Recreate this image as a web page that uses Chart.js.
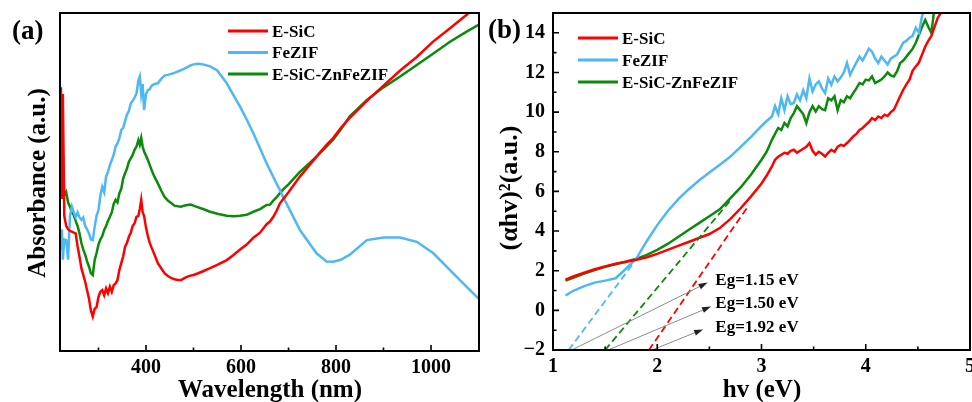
<!DOCTYPE html>
<html>
<head>
<meta charset="utf-8">
<script src="https://cdn.jsdelivr.net/npm/chart.js@4.4.1/dist/chart.umd.min.js"></script>
<style>
  html, body { margin: 0; padding: 0; background: #fff; }
  #wrap { position: relative; width: 972px; height: 402px; overflow: hidden; }
  .panel { position: absolute; top: 0; width: 486px; height: 402px; }
</style>
</head>
<body>
<div id="wrap">
  <div class="panel" style="left:0"><canvas id="absChart"></canvas></div>
  <div class="panel" style="left:486px"><canvas id="taucChart"></canvas></div>
</div>
<script>
// series names and colours, shared by both panels
const seriesNames = ['E-SiC', 'FeZIF', 'E-SiC-ZnFeZIF'];
const seriesColors = ['#ff0000', '#4db8f4', '#0b8a0b'];

// (a) UV-vis absorbance (a.u.)
const wavelength = [221, 223, 225, 228, 232, 236, 240, 244, 248, 252, 256, 260, 264, 268, 272, 276, 280, 284, 288, 292,
  296, 300, 304, 308, 312, 316, 320, 324, 328, 332, 336, 340, 344, 348, 352, 356, 360, 364, 368, 372,
  376, 380, 384, 387, 390, 393, 396, 400, 404, 408, 412, 418, 425, 432, 439, 446, 453, 460, 467, 474,
  480, 487, 494, 500, 510, 520, 535, 550, 570, 585, 598, 612, 626, 640, 654, 661, 668, 675, 682, 689,
  700, 724, 759, 780, 794, 810, 829, 865, 900, 935, 970, 1005, 1040, 1075, 1100];
const absESiC = [78, 45, 76, 40, 37, 36, 35.5, 35.3, 35, 34.8, 31, 27.9, 24.5, 22.5, 20.5, 18, 15.5, 12, 10.2, 12.5,
  13, 16, 17.5, 18, 16.5, 18.5, 17.1, 19, 17.5, 19.5, 20, 21, 24, 26, 28, 30.9, 32, 33.8, 35, 37,
  37.8, 39.7, 40, 42, 44.7, 41, 40, 36.5, 34, 32, 30.5, 28.5, 26, 24.5, 23, 22.2, 21.6, 21.2, 21, 21,
  21.5, 22, 22.3, 22.5, 23, 23.6, 24.5, 25.5, 26.9, 28.5, 30, 31.5, 33.5, 35, 37.5, 38.3, 39.7, 41.5, 43.7, 45,
  47, 51.6, 57.5, 61, 63, 66, 69, 74, 78.5, 83, 87, 91.6, 95.5, 99.5, 102.5];
const absFeZIF = [30, 36, 27, 33, 32.8, 27, 40, 42.7, 41, 39.7, 41, 39.5, 38.8, 39.5, 37, 36, 34.8, 33, 32.8, 36.8,
  40, 41.7, 46, 48.6, 47, 51.6, 53, 55, 56.5, 58, 60.5, 61.4, 63, 65.4, 66, 68, 70, 71, 73.3, 74,
  75, 76.2, 80, 81.2, 76, 79, 71.3, 76, 77.2, 77.5, 78.5, 79, 79.2, 80.5, 81.5, 81.7, 82, 82.3, 82.7, 83.1,
  83.5, 84, 84.5, 84.8, 85, 84.8, 84.2, 83, 79.2, 75.5, 72.3, 68.5, 64.4, 60, 55.5, 53.5, 51.5, 49.5, 47.6, 45.5,
  42.5, 35.8, 28.9, 26.5, 26.4, 27, 28.5, 32.8, 33.6, 33.6, 32.3, 28.9, 23.9, 19, 15.5];
const absZnFeZIF = [62, 50, 58, 46, 47, 44, 42.7, 41, 40.2, 38.5, 37, 34.8, 32, 30, 28.5, 26.5, 25, 23, 22.5, 26.9,
  29, 31.5, 33, 34, 35.8, 37, 38.5, 39.7, 41, 43.5, 44.7, 44, 46.7, 48, 51, 52.6, 54, 56, 57, 58,
  59.5, 60.5, 62.4, 61, 63, 60.5, 59, 57.8, 56.5, 55, 53.5, 51.5, 49.6, 47.5, 45.6, 44.5, 43.8, 43, 42.8, 42.7,
  43, 43.2, 43.3, 43, 42.5, 42, 41.2, 40.6, 40, 39.9, 40, 40.3, 41.2, 42, 43.2, 43.3, 44.5, 45.5, 46.7, 47.8,
  49.3, 53, 57.5, 60.5, 62.5, 65.5, 69.4, 74.3, 78, 81.2, 84.6, 88, 91.5, 94.5, 96.5];
const wlTicks = [400, 600, 800, 1000];
const wlMinorTicks = [300, 500, 700, 900];

// (b) Tauc plot, (αhv)^2 vs photon energy
const energy = [1.12, 1.2, 1.3, 1.4, 1.5, 1.6, 1.7, 1.8, 1.9, 2.0, 2.1, 2.2, 2.3, 2.4, 2.5, 2.6, 2.7, 2.8, 2.9, 3.0,
  3.05, 3.1, 3.13, 3.16, 3.19, 3.22, 3.25, 3.28, 3.31, 3.34, 3.37, 3.40, 3.43, 3.46, 3.49, 3.52, 3.55, 3.58, 3.61, 3.64,
  3.67, 3.70, 3.73, 3.76, 3.79, 3.82, 3.85, 3.88, 3.91, 3.94, 3.97, 4.0, 4.03, 4.06, 4.09, 4.12, 4.15, 4.18, 4.21, 4.24,
  4.27, 4.30, 4.33, 4.36, 4.39, 4.42, 4.45, 4.48, 4.51, 4.54, 4.57, 4.60, 4.63, 4.66, 4.69, 4.72, 4.75];
const taucESiC = [1.55, 1.72, 1.9, 2.07, 2.22, 2.35, 2.45, 2.55, 2.68, 2.85, 3.05, 3.25, 3.45, 3.65, 3.85, 4.15, 4.6, 5.15, 5.75, 6.4,
  6.8, 7.26, 7.6, 7.75, 7.85, 7.95, 7.9, 8.05, 8.1, 7.95, 8.05, 8.15, 8.25, 8.44, 8.05, 7.85, 8.0, 7.9, 7.76, 7.95,
  8.1, 8.0, 8.25, 8.35, 8.3, 8.44, 8.6, 8.78, 8.9, 9.1, 9.2, 9.36, 9.5, 9.7, 9.6, 9.78, 9.7, 9.87, 9.8, 10.0,
  10.12, 10.46, 10.8, 11.13, 11.4, 11.64, 12.1, 12.3, 12.5, 12.9, 13.3, 13.6, 13.85, 14.3, 14.75, 15.0, 15.4];
const taucFeZIF = [0.75, 1.0, 1.22, 1.4, 1.5, 1.62, 2.1, 2.62, 3.5, 4.3, 5.0, 5.6, 6.1, 6.55, 6.95, 7.35, 7.75, 8.25, 8.75, 9.3,
  9.55, 9.78, 10.3, 9.9, 10.7, 10.1, 10.8, 10.4, 10.46, 10.9, 10.6, 11.1, 10.7, 11.7, 11.05, 11.4, 11.55, 11.2, 10.96, 11.7,
  11.38, 11.8, 11.55, 11.75, 12.0, 12.48, 11.88, 12.2, 12.5, 12.8, 12.6, 12.9, 13.2, 13.05, 12.7, 12.48, 12.8, 12.6, 12.4, 12.7,
  12.8, 12.9, 13.2, 13.5, 13.6, 13.75, 13.85, 14.25, 14.0, 14.85, 15.3, 15.8, 16.2, 16.6, 17, 17.4, 17.8];
const taucZnFeZIF = [1.5, 1.65, 1.85, 2.03, 2.2, 2.33, 2.45, 2.6, 2.8, 3.05, 3.35, 3.7, 4.05, 4.4, 4.75, 5.1, 5.65, 6.2, 6.85, 7.6,
  8.0, 8.6, 8.9, 9.2, 9.1, 9.45, 9.28, 9.7, 9.95, 10.3, 10.1, 9.9, 9.45, 10.0, 10.3, 10.03, 10.3, 10.15, 10.1, 10.7,
  10.6, 10.8, 10.1, 10.6, 10.5, 10.8, 10.7, 10.96, 11.2, 11.47, 11.4, 11.64, 11.6, 11.8, 11.47, 11.55, 11.64, 11.8, 12.0, 11.85,
  11.8, 12.05, 12.48, 12.6, 12.8, 13.0, 13.2, 13.5, 13.9, 14.3, 14.65, 14.3, 14.0, 15.3, 15.8, 16.2, 16.6];
const eTicks = [1, 2, 3, 4, 5];
const eMinorTicks = [1.5, 2.5, 3.5, 4.5];
const taucTicks = [-2, 0, 2, 4, 6, 8, 10, 12, 14];
const taucMinorTicks = [-1, 1, 3, 5, 7, 9, 11, 13];

// linear fits: band gap read at the x intercept, fit end point; order FeZIF, ZnFeZIF, E-SiC
const bandGaps = [1.15, 1.50, 1.92];
const fitEnds = [[1.76, 2.3], [2.72, 5.66], [2.87, 5.24]];
const fitColors = [seriesColors[1], seriesColors[2], seriesColors[0]];

const SERIF = '"Liberation Serif", "Times New Roman", serif';
const bold = size => 'bold ' + size + 'px ' + SERIF;

function toPoints(xs, ys) {
  return xs.map((x, i) => ({ x: x, y: ys[i] }));
}

function curve(label, color, points) {
  return {
    label: label,
    data: points,
    borderColor: color,
    backgroundColor: color,
    borderWidth: 2.5,
    pointRadius: 0,
    tension: 0
  };
}

// fixed layout for the scales, so the plot boxes land where they should
function fixWidth(w) {
  return s => { s.width = w; s.paddingTop = 0; s.paddingBottom = 0; };
}
function fixHeight(h) {
  return s => { s.height = h; s.paddingLeft = 0; s.paddingRight = 0; };
}
function useTicks(values) {
  return s => { s.ticks = values.map(v => ({ value: v })); };
}

// frame with inward tick marks
function drawFrame(chart, xMajor, xMinor, yMajor, yMinor) {
  const { ctx, chartArea: a, scales: { x, y } } = chart;
  ctx.save();
  ctx.strokeStyle = '#000';
  ctx.lineWidth = 1.6;
  ctx.beginPath();
  xMajor.forEach(v => { const p = x.getPixelForValue(v); ctx.moveTo(p, a.bottom); ctx.lineTo(p, a.bottom - 6); });
  xMinor.forEach(v => { const p = x.getPixelForValue(v); ctx.moveTo(p, a.bottom); ctx.lineTo(p, a.bottom - 3.5); });
  yMajor.forEach(v => { const p = y.getPixelForValue(v); ctx.moveTo(a.left, p); ctx.lineTo(a.left + 6, p); });
  yMinor.forEach(v => { const p = y.getPixelForValue(v); ctx.moveTo(a.left, p); ctx.lineTo(a.left + 3.5, p); });
  ctx.stroke();
  ctx.lineWidth = 2;
  ctx.strokeRect(a.left, a.top, a.right - a.left, a.bottom - a.top);
  ctx.restore();
}

function drawLegend(ctx, x0, y0, gap) {
  ctx.save();
  ctx.font = bold(17);
  ctx.textBaseline = 'alphabetic';
  seriesNames.forEach((name, i) => {
    const y = y0 + i * gap;
    ctx.strokeStyle = seriesColors[i];
    ctx.lineWidth = 3;
    ctx.beginPath();
    ctx.moveTo(x0, y);
    ctx.lineTo(x0 + 40, y);
    ctx.stroke();
    ctx.fillStyle = '#000';
    ctx.fillText(name, x0 + 44, y + 5.8);
  });
  ctx.restore();
}

function drawText(ctx, text, x, y, size, align) {
  ctx.save();
  ctx.font = bold(size);
  ctx.fillStyle = '#000';
  ctx.textAlign = align || 'left';
  ctx.textBaseline = 'alphabetic';
  ctx.fillText(text, x, y);
  ctx.restore();
}

function drawYTitle(ctx, text, x, y, size) {
  ctx.save();
  ctx.translate(x, y);
  ctx.rotate(-Math.PI / 2);
  ctx.font = bold(size);
  ctx.fillStyle = '#000';
  ctx.textAlign = 'center';
  ctx.textBaseline = 'alphabetic';
  ctx.fillText(text, 0, 0);
  ctx.restore();
}

function drawArrow(ctx, x1, y1, x2, y2) {
  const ang = Math.atan2(y2 - y1, x2 - x1);
  const c = Math.cos(ang), s = Math.sin(ang);
  ctx.save();
  ctx.strokeStyle = '#8c8c8c';
  ctx.lineWidth = 1;
  ctx.beginPath();
  ctx.moveTo(x1, y1);
  ctx.lineTo(x2 - 6 * c, y2 - 6 * s);
  ctx.stroke();
  ctx.fillStyle = '#222';
  ctx.beginPath();
  ctx.moveTo(x2, y2);
  ctx.lineTo(x2 - 9 * c + 3 * s, y2 - 9 * s - 3 * c);
  ctx.lineTo(x2 - 9 * c - 3 * s, y2 - 9 * s + 3 * c);
  ctx.closePath();
  ctx.fill();
  ctx.restore();
}

const tickFont = { family: SERIF, size: 20, weight: 'bold' };

// ---- (a) absorbance ----
new Chart(document.getElementById('absChart'), {
  type: 'line',
  data: {
    datasets: [
      curve(seriesNames[0], seriesColors[0], toPoints(wavelength, absESiC)),
      curve(seriesNames[1], seriesColors[1], toPoints(wavelength, absFeZIF)),
      curve(seriesNames[2], seriesColors[2], toPoints(wavelength, absZnFeZIF))
    ]
  },
  options: {
    responsive: true,
    maintainAspectRatio: false,
    animation: false,
    layout: { padding: { top: 13, right: 7, left: 0, bottom: 0 } },
    plugins: { legend: { display: false }, tooltip: { enabled: false } },
    scales: {
      x: {
        type: 'linear', min: 219, max: 1101,
        grid: { display: false, drawTicks: false },
        border: { display: false },
        ticks: { font: tickFont, color: '#000', padding: 5, maxRotation: 0, callback: v => String(v) },
        afterBuildTicks: useTicks(wlTicks),
        afterFit: fixHeight(51)
      },
      y: {
        min: 0, max: 100,
        grid: { display: false, drawTicks: false },
        border: { display: false },
        ticks: { display: false },
        afterFit: fixWidth(60)
      }
    }
  },
  plugins: [{
    id: 'absDecor',
    afterDraw(chart) {
      const ctx = chart.ctx;
      drawFrame(chart, wlTicks, wlMinorTicks, [], []);
      drawLegend(ctx, 228, 31, 21.5);
      drawText(ctx, '(a)', 12, 38.5, 27);
      drawText(ctx, 'Wavelength (nm)', 270, 397, 25, 'center');
      drawYTitle(ctx, 'Absorbance (a.u.)', 45, 183, 25);
    }
  }]
});

// ---- (b) Tauc plot ----
const fitSets = bandGaps.map((eg, i) => ({
  data: [{ x: eg, y: -2 }, { x: fitEnds[i][0], y: fitEnds[i][1] }],
  borderColor: fitColors[i],
  borderWidth: 1.8,
  borderDash: [7, 4],
  pointRadius: 0
}));

// gap labels: text baseline in data units, arrow tip in data units
const gapLabelX = 2.557;
const gapLabelY = [1.28, 0.12, -1.07];
const gapArrowTips = [[2.483, 1.40], [2.516, 0.19], [2.44, -0.96]];

new Chart(document.getElementById('taucChart'), {
  type: 'line',
  data: {
    datasets: [
      ...fitSets,
      curve(seriesNames[0], seriesColors[0], toPoints(energy, taucESiC)),
      curve(seriesNames[1], seriesColors[1], toPoints(energy, taucFeZIF)),
      curve(seriesNames[2], seriesColors[2], toPoints(energy, taucZnFeZIF))
    ]
  },
  options: {
    responsive: true,
    maintainAspectRatio: false,
    animation: false,
    layout: { padding: { top: 13, right: 2, left: 0, bottom: 0 } },
    plugins: { legend: { display: false }, tooltip: { enabled: false } },
    scales: {
      x: {
        type: 'linear', min: 1, max: 5,
        grid: { display: false, drawTicks: false },
        border: { display: false },
        ticks: { font: tickFont, color: '#000', padding: 5, maxRotation: 0, autoSkip: false, callback: v => String(v) },
        afterBuildTicks: useTicks(eTicks),
        afterFit: fixHeight(52)
      },
      y: {
        min: -2, max: 15,
        grid: { display: false, drawTicks: false },
        border: { display: false },
        ticks: {
          font: tickFont, color: '#000', padding: 8, autoSkip: false,
          callback: v => (v < 0 ? '\u2212' + Math.abs(v) : String(v))
        },
        afterBuildTicks: useTicks(taucTicks),
        afterFit: fixWidth(67)
      }
    }
  },
  plugins: [{
    id: 'taucDecor',
    afterDatasetsDraw(chart) {
      const { ctx, scales: { x, y } } = chart;
      bandGaps.forEach((eg, i) => {
        drawArrow(ctx,
          x.getPixelForValue(eg + 0.03), y.getPixelForValue(-2),
          x.getPixelForValue(gapArrowTips[i][0]), y.getPixelForValue(gapArrowTips[i][1]));
        drawText(ctx, 'Eg=' + eg.toFixed(2) + ' eV',
          x.getPixelForValue(gapLabelX), y.getPixelForValue(gapLabelY[i]), 17);
      });
    },
    afterDraw(chart) {
      const ctx = chart.ctx;
      drawFrame(chart, eTicks, eMinorTicks, taucTicks, taucMinorTicks);
      drawLegend(ctx, 92, 38, 22);
      drawText(ctx, '(b)', 2, 38, 27);
      drawText(ctx, 'hv (eV)', 276, 397, 25, 'center');
      drawYTitle(ctx, '(\u03b1hv)\u00b2(a.u.)', 31, 188, 26);
    }
  }]
});
</script>
</body>
</html>
